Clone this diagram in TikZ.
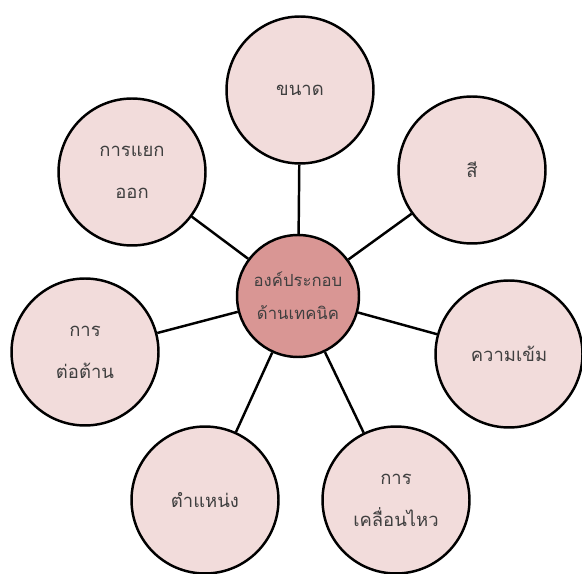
\documentclass[tikz,border=0pt]{standalone}
\usepackage{fontspec}
\newfontfamily\thaifont[Script=Thai]{Loma}
\usepackage{xcolor}
\definecolor{colOuter}{HTML}{F2DCDB}
\definecolor{colCore}{HTML}{D99694}
\definecolor{colText}{HTML}{3F3F3F}
\usepackage{tikz}
\usetikzlibrary{positioning}
\tikzset{
    topic/.style={
        circle, draw=black, line width=1.4pt,
        fill=#1, minimum size=2.94cm, inner sep=0pt,
        align=center, text=colText,
        font=\thaifont\fontsize{10.5}{14}\selectfont
    },
    topic/.default=colOuter,
    link/.style={line width=1.4pt, draw=black},
}

\begin{document}
\begin{tikzpicture}[x=0.02cm, y=-0.02cm]
    \useasboundingbox (0,0) rectangle (582,574);
    \node[topic=colCore, minimum size=2.44cm,
          font=\thaifont\fontsize{9.5}{13}\selectfont] (core) at (298,296)
          {องค์ประกอบ\\[6pt]ด้านเทคนิค};
    \node[topic] (size)     at (300,90)  {ขนาด};
    \node[topic] (colour)   at (472,170) {สี};
    \node[topic] (strength) at (509,354) {ความเข้ม};
    \node[topic] (motion)   at (396,500) {การ\\[10pt]เคลื่อนไหว};
    \node[topic] (place)    at (205,500) {ตำแหน่ง};
    \node[topic] (contrast) at (85,352)  {การ\\[10pt]ต่อต้าน};
    \node[topic] (apart)    at (132,172) {การแยก\\[10pt]ออก};
    % spokes from the middle
    \foreach \n in {size, colour, strength, motion, place, contrast, apart}
        \draw[link] (core) -- (\n);
\end{tikzpicture}
\end{document}
